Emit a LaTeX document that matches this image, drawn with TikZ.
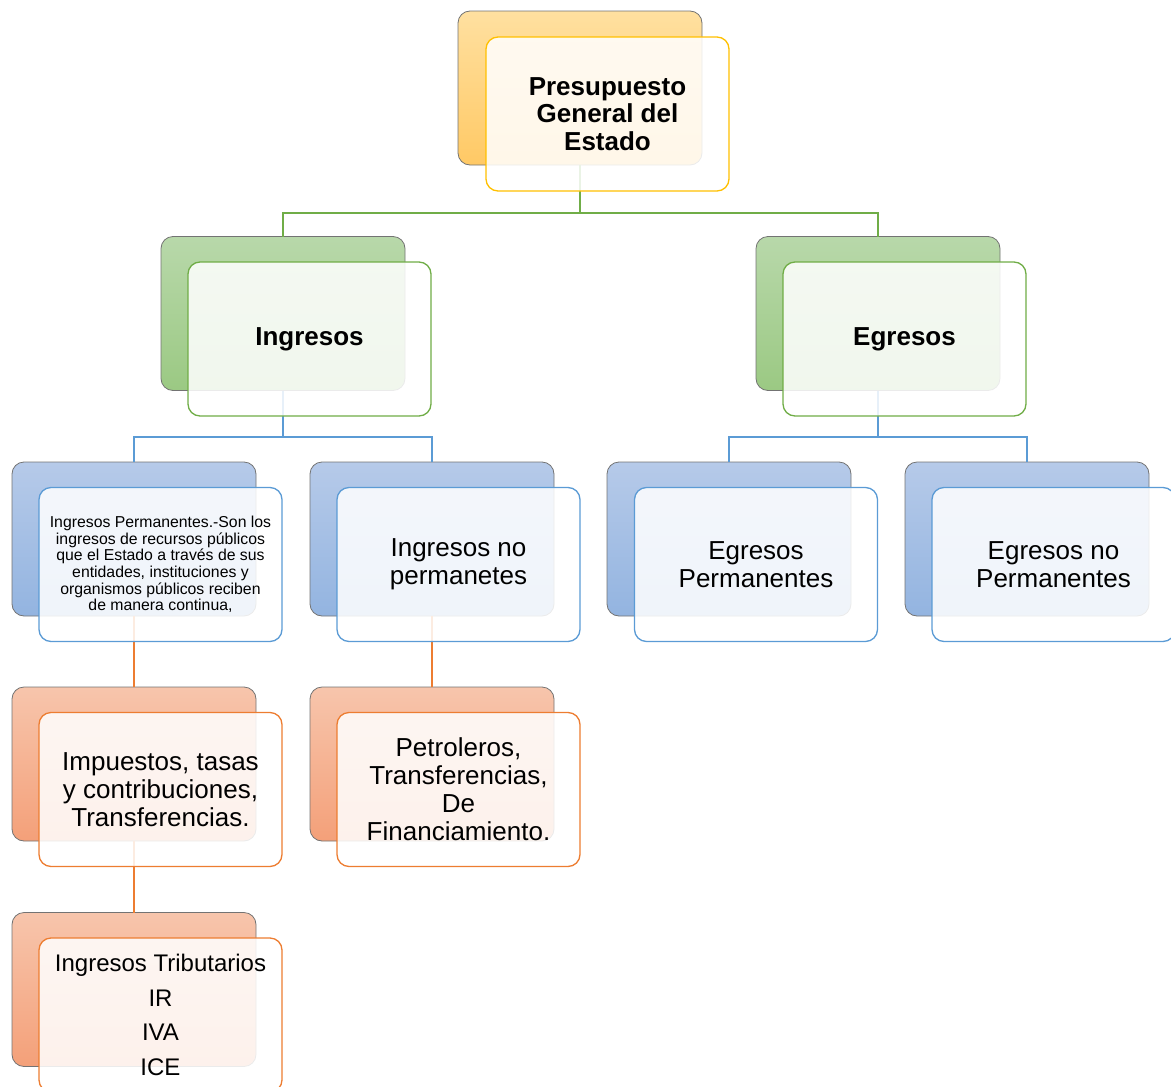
\documentclass[tikz,border=0pt]{standalone}
\usepackage{fontspec}
\setmainfont{Liberation Sans}
\definecolor{gold}{HTML}{FFC000}
\definecolor{goldT}{HTML}{FFE0A0}
\definecolor{goldBt}{HTML}{FFC965}
\definecolor{grn}{HTML}{70AD47}
\definecolor{grnT}{HTML}{B8D8AA}
\definecolor{grnBt}{HTML}{9BC983}
\definecolor{blu}{HTML}{5B9BD5}
\definecolor{bluT}{HTML}{B6CAE9}
\definecolor{bluBt}{HTML}{93B4E0}
\definecolor{org}{HTML}{ED7D31}
\definecolor{orgT}{HTML}{F7C5AC}
\definecolor{orgBt}{HTML}{F4A079}
\tikzset{
  backbox/.style={rounded corners=12pt, draw=black!55, line width=0.8pt,
    minimum width=244pt, minimum height=154pt, inner sep=0pt, outer sep=0pt},
  frontbox/.style={rounded corners=12pt, fill=white, fill opacity=0.86, text opacity=1,
    line width=1.3pt, minimum width=243pt, minimum height=154pt, inner sep=0pt,
    outer sep=0pt, align=center, text=black},
  conn/.style={line width=2.6pt},
  bigbold/.style={font=\fontsize{26}{27.5}\selectfont\bfseries},
  bigtxt/.style={font=\fontsize{26}{28}\selectfont},
  smalltxt/.style={font=\fontsize{15.8}{16.6}\selectfont},
  listtxt/.style={font=\fontsize{24}{34.5}\selectfont},
}
\begin{document}
\begin{tikzpicture}[x=1pt,y=-1pt]
\useasboundingbox (0,0) rectangle (1171,1087);
\clip (0,0) rectangle (1171,1087);
% back boxes
\node[backbox, top color=goldT, bottom color=goldBt] (topB) at (580,88) {};
\node[backbox, top color=grnT, bottom color=grnBt] (ingB) at (283,313.5) {};
\node[backbox, top color=grnT, bottom color=grnBt] (egrB) at (878,313.5) {};
\node[backbox, top color=bluT, bottom color=bluBt] (ipB) at (134,539) {};
\node[backbox, top color=bluT, bottom color=bluBt] (inpB) at (432,539) {};
\node[backbox, top color=bluT, bottom color=bluBt] (epB) at (729,539) {};
\node[backbox, top color=bluT, bottom color=bluBt] (enpB) at (1027,539) {};
\node[backbox, top color=orgT, bottom color=orgBt] (impB) at (134,764) {};
\node[backbox, top color=orgT, bottom color=orgBt] (petB) at (432,764) {};
\node[backbox, top color=orgT, bottom color=orgBt] (tribB) at (134,989.5) {};
% connector levels
\coordinate (h1) at (0,213);
\coordinate (h2) at (0,437);
% connectors
\draw[conn, grn] (topB.south) -- (topB.south |- h1) -| (ingB.north);
\draw[conn, grn] (topB.south |- h1) -| (egrB.north);
\draw[conn, blu] (ingB.south) -- (ingB.south |- h2) -| (ipB.north);
\draw[conn, blu] (ingB.south |- h2) -| (inpB.north);
\draw[conn, blu] (egrB.south) -- (egrB.south |- h2) -| (epB.north);
\draw[conn, blu] (egrB.south |- h2) -| (enpB.north);
\draw[conn, org] (ipB.south) -- (impB.north);
\draw[conn, org] (inpB.south) -- (petB.north);
\draw[conn, org] (impB.south) -- (tribB.north);
% front boxes
\node[frontbox, draw=gold, bigbold] (topF) at (607.5,114) {Presupuesto\\General del\\Estado};
\node[frontbox, draw=grn, bigbold] (ingF) at (309.5,339) {Ingresos};
\node[frontbox, draw=grn, bigbold] (egrF) at (904.5,339) {Egresos};
\node[frontbox, draw=blu, smalltxt] (ipF) at (160.5,564.5) {Ingresos Permanentes.-Son los\\ingresos de recursos públicos\\que el Estado a través de sus\\entidades, instituciones y\\organismos públicos reciben\\de manera continua,};
\node[frontbox, draw=blu, bigtxt] (inpF) at (458.5,564.5) {Ingresos no\\permanetes};
\node[frontbox, draw=blu, bigtxt] (epF) at (756,564.5) {Egresos\\Permanentes};
\node[frontbox, draw=blu, bigtxt] (enpF) at (1053.5,564.5) {Egresos no\\Permanentes};
\node[frontbox, draw=org, bigtxt] (impF) at (160.5,789.5) {Impuestos, tasas\\y contribuciones,\\Transferencias.};
\node[frontbox, draw=org, bigtxt] (petF) at (458.5,789.5) {Petroleros,\\Transferencias,\\De\\Financiamiento.};
\node[frontbox, draw=org, listtxt] (tribF) at (160.5,1015) {Ingresos Tributarios\\IR\\IVA\\ICE};
\end{tikzpicture}
\end{document}
